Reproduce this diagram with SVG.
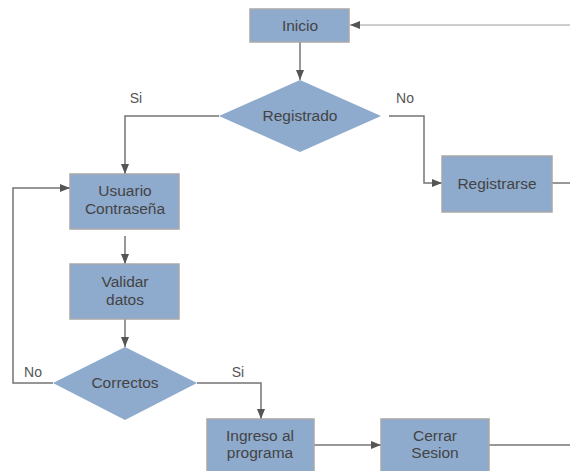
<svg xmlns="http://www.w3.org/2000/svg" width="570" height="471" viewBox="0 0 570 471">
<defs>
<marker id="arr" markerWidth="10" markerHeight="8" refX="10" refY="4" orient="auto" markerUnits="userSpaceOnUse">
<path d="M0,0 L10,4 L0,8 Z" fill="#555"/>
</marker>
<style>
.box{fill:#8eaacd;stroke:#a8a8a8;stroke-width:1.5}
.t{font-family:"Liberation Sans",Arial,sans-serif;font-size:15.5px;fill:#444;text-anchor:middle}
.l{font-family:"Liberation Sans",Arial,sans-serif;font-size:14px;fill:#555;text-anchor:middle}
.c{fill:none;stroke:#747474;stroke-width:1.5}
.cl{fill:none;stroke:#bdbdbd;stroke-width:1.5}
</style>
</defs>
<rect width="570" height="471" fill="#fff"/>
<g id="connectors">
<path class="cl" d="M570,25 L350,25" marker-end="url(#arr)"/>
<path class="c" d="M300,42 L300,80" marker-end="url(#arr)"/>
<path class="c" d="M219,116 L125,116 L125,174" marker-end="url(#arr)"/>
<path class="c" d="M389,116 L424,116 L424,183 L442,183" marker-end="url(#arr)"/>
<path class="c" d="M552,183 L580,183" marker-end="url(#arr)"/>
<path class="c" d="M125,236 L125,264" marker-end="url(#arr)"/>
<path class="c" d="M125,319 L125,347" marker-end="url(#arr)"/>
<path class="c" d="M53,383 L13,383 L13,188 L70,188" marker-end="url(#arr)"/>
<path class="c" d="M197,383 L261,383 L261,419" marker-end="url(#arr)"/>
<path class="c" d="M314,445 L381,445" marker-end="url(#arr)"/>
<path class="c" d="M489,445 L570,445"/>
<text class="l" x="136" y="103">Si</text>
<text class="l" x="405" y="103">No</text>
<text class="l" x="33" y="377">No</text>
<text class="l" x="238" y="377">Si</text>
</g>
<g id="inicio">
<rect class="box" x="250" y="9" width="99" height="33"/>
<text class="t" x="300" y="31">Inicio</text>
</g>
<g id="registrado">
<polygon class="box" points="300,80 381,116 300,152 219,116" style="stroke:none"/>
<text class="t" x="300" y="121">Registrado</text>
</g>
<g id="registrarse">
<rect class="box" x="442" y="156" width="110" height="56"/>
<text class="t" x="497" y="189">Registrarse</text>
</g>
<g id="usuario">
<rect class="box" x="70" y="174" width="109" height="55"/>
<text class="t" x="125" y="196">Usuario</text>
<text class="t" x="125" y="214">Contraseña</text>
</g>
<g id="validar">
<rect class="box" x="70" y="264" width="109" height="55"/>
<text class="t" x="125" y="287">Validar</text>
<text class="t" x="125" y="305">datos</text>
</g>
<g id="correctos">
<polygon class="box" points="125,347 197,383 125,420 53,383" style="stroke:none"/>
<text class="t" x="125" y="388">Correctos</text>
</g>
<g id="ingreso">
<rect class="box" x="207" y="419" width="107" height="60"/>
<text class="t" x="260" y="441">Ingreso al</text>
<text class="t" x="260" y="458">programa</text>
</g>
<g id="cerrar">
<rect class="box" x="381" y="419" width="108" height="60"/>
<text class="t" x="435" y="441">Cerrar</text>
<text class="t" x="435" y="458">Sesion</text>
</g>
</svg>
